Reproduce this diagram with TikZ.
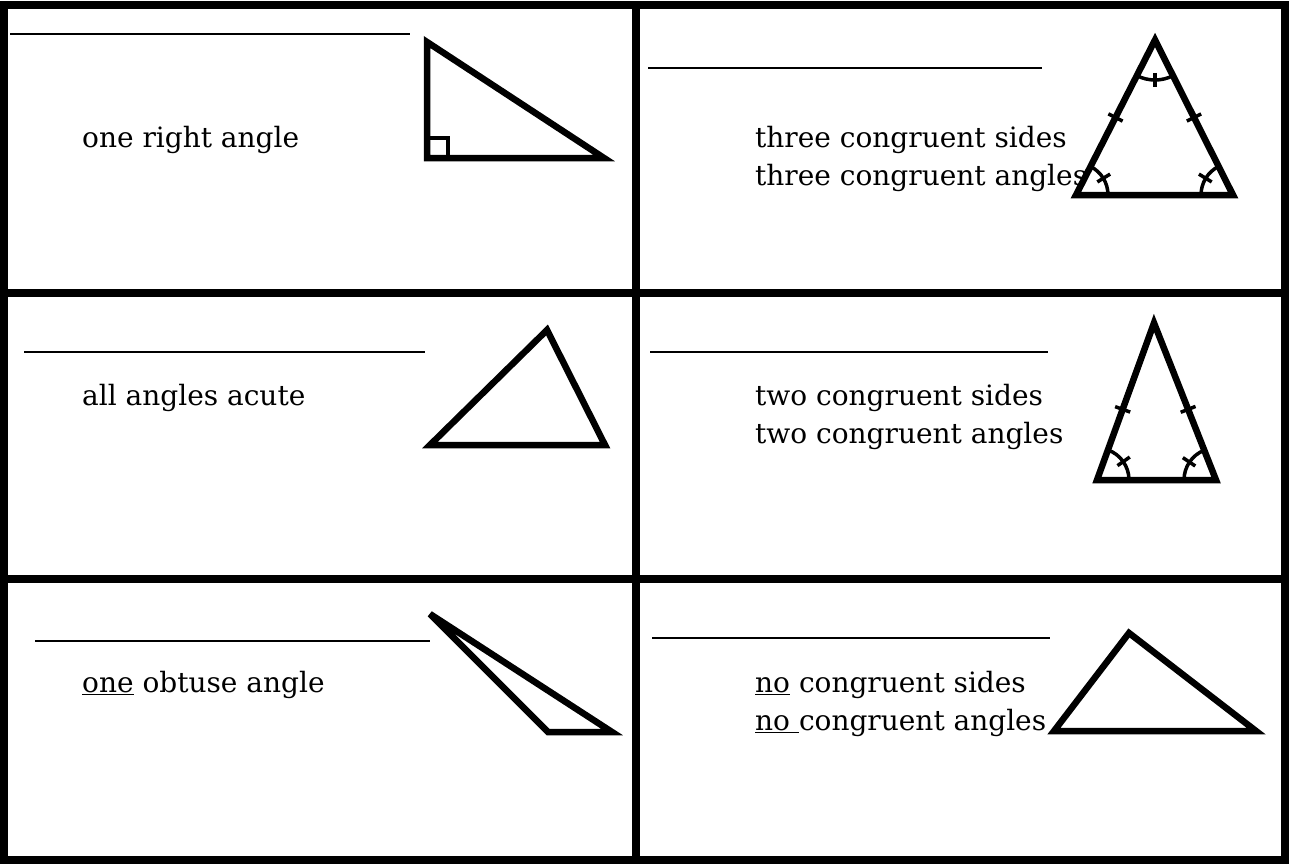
\documentclass[tikz,border=0pt]{standalone}
\usepackage{fontspec}
\setmainfont{DejaVu Serif}
\usetikzlibrary{calc}
\begin{document}
\begin{tikzpicture}[x=1pt,y=-1pt,
  frame/.style={line width=8pt, line cap=rect},
  blank/.style={line width=2.2pt},
  tri/.style={line width=6.5pt, line join=miter},
  tickmark/.style={line width=3.5pt},
  arcmark/.style={line width=3.5pt},
  lbl/.style={anchor=base west, inner sep=0pt, font=\fontsize{28}{38}\selectfont}]
\useasboundingbox (0,0) rectangle (1290,864);
\fill[white] (0,0) rectangle (1290,864);
% frame
\coordinate (TL) at (4,5);
\coordinate (BR) at (1285,860);
\draw[frame] (TL) rectangle (BR);
\coordinate (VT) at (636,5);
\coordinate (VB) at (636,860);
\draw[frame] (VT) -- (VB);
\coordinate (H1L) at (4,293);
\coordinate (H1R) at (1285,293);
\coordinate (H2L) at (4,579);
\coordinate (H2R) at (1285,579);
\draw[frame] (H1L) -- (H1R);
\draw[frame] (H2L) -- (H2R);
% blank lines
\coordinate (b1a) at (10,34);   \coordinate (b1b) at (410,34);
\coordinate (b2a) at (24,352);  \coordinate (b2b) at (425,352);
\coordinate (b3a) at (35,641);  \coordinate (b3b) at (430,641);
\coordinate (b4a) at (648,68);  \coordinate (b4b) at (1042,68);
\coordinate (b5a) at (650,352); \coordinate (b5b) at (1048,352);
\coordinate (b6a) at (652,638); \coordinate (b6b) at (1050,638);
\draw[blank] (b1a) -- (b1b);
\draw[blank] (b2a) -- (b2b);
\draw[blank] (b3a) -- (b3b);
\draw[blank] (b4a) -- (b4b);
\draw[blank] (b5a) -- (b5b);
\draw[blank] (b6a) -- (b6b);
% labels
\node[lbl] (t1) at (82,147) {one right angle};
\node[lbl] (t2a) at (755,147) {three congruent sides};
\node[lbl] (t2b) at (755,185) {three congruent angles};
\node[lbl] (t3) at (82,405) {all angles acute};
\node[lbl] (t4a) at (755,405) {two congruent sides};
\node[lbl] (t4b) at (755,443) {two congruent angles};
\node[lbl] (t5) at (82,692) {\underline{one} obtuse angle};
\node[lbl] (t6a) at (755,692) {\underline{no} congruent sides};
\node[lbl] (t6b) at (755,730) {\underline{no\ }congruent angles};
% right triangle
\coordinate (R1) at (427,42);
\coordinate (R2) at (427,158);
\coordinate (R3) at (604,158);
\draw[tri] (R1) -- (R2) -- (R3) -- cycle;
\draw[tickmark] ($(R2)+(0,-20)$) -- ++(21,0) -- ++(0,20);
% equilateral
\coordinate (E1) at (1155,40);
\coordinate (E2) at (1076,195);
\coordinate (E3) at (1233,195);
\draw[tri] (E1) -- (E2) -- (E3) -- cycle;
\coordinate (EM1) at ($(E2)!0.5!(E1)$);
\coordinate (EM2) at ($(E3)!0.5!(E1)$);
\draw[tickmark] ($(EM1)!8pt!90:(E1)$) -- ($(EM1)!8pt!-90:(E1)$);
\draw[tickmark] ($(EM2)!8pt!90:(E1)$) -- ($(EM2)!8pt!-90:(E1)$);
\draw[arcmark] ($(E2)+(0:32)$) arc[start angle=0, end angle=-63, radius=32];
\draw[tickmark] ($(E2)+(-31.5:25)$) -- ($(E2)+(-31.5:40)$);
\draw[arcmark] ($(E3)+(180:32)$) arc[start angle=180, end angle=243, radius=32];
\draw[tickmark] ($(E3)+(211.5:25)$) -- ($(E3)+(211.5:40)$);
\draw[arcmark] ($(E1)+(63:40)$) arc[start angle=63, end angle=117, radius=40];
\draw[tickmark] ($(E1)+(90:33)$) -- ($(E1)+(90:47)$);
% acute
\coordinate (A1) at (547,330);
\coordinate (A2) at (430,445);
\coordinate (A3) at (605,445);
\draw[tri] (A1) -- (A2) -- (A3) -- cycle;
% isosceles
\coordinate (I1) at (1154,323);
\coordinate (I2) at (1097,480);
\coordinate (I3) at (1216,480);
\draw[tri] (I1) -- (I2) -- (I3) -- cycle;
\coordinate (IM1) at ($(I1)!0.55!(I2)$);
\coordinate (IM2) at ($(I1)!0.55!(I3)$);
\draw[tickmark] ($(IM1)!8pt!90:(I1)$) -- ($(IM1)!8pt!-90:(I1)$);
\draw[tickmark] ($(IM2)!8pt!90:(I1)$) -- ($(IM2)!8pt!-90:(I1)$);
\draw[arcmark] ($(I2)+(0:32)$) arc[start angle=0, end angle=-70, radius=32];
\draw[tickmark] ($(I2)+(-35:25)$) -- ($(I2)+(-35:40)$);
\draw[arcmark] ($(I3)+(180:32)$) arc[start angle=180, end angle=248, radius=32];
\draw[tickmark] ($(I3)+(214:25)$) -- ($(I3)+(214:40)$);
% obtuse
\coordinate (O1) at (430,614);
\coordinate (O2) at (548,732);
\coordinate (O3) at (612,732);
\draw[tri, miter limit=4] (O1) -- (O2) -- (O3) -- cycle;
% scalene
\coordinate (S1) at (1129,633);
\coordinate (S2) at (1054,731);
\coordinate (S3) at (1256,731);
\draw[tri] (S1) -- (S2) -- (S3) -- cycle;
\end{tikzpicture}
\end{document}
